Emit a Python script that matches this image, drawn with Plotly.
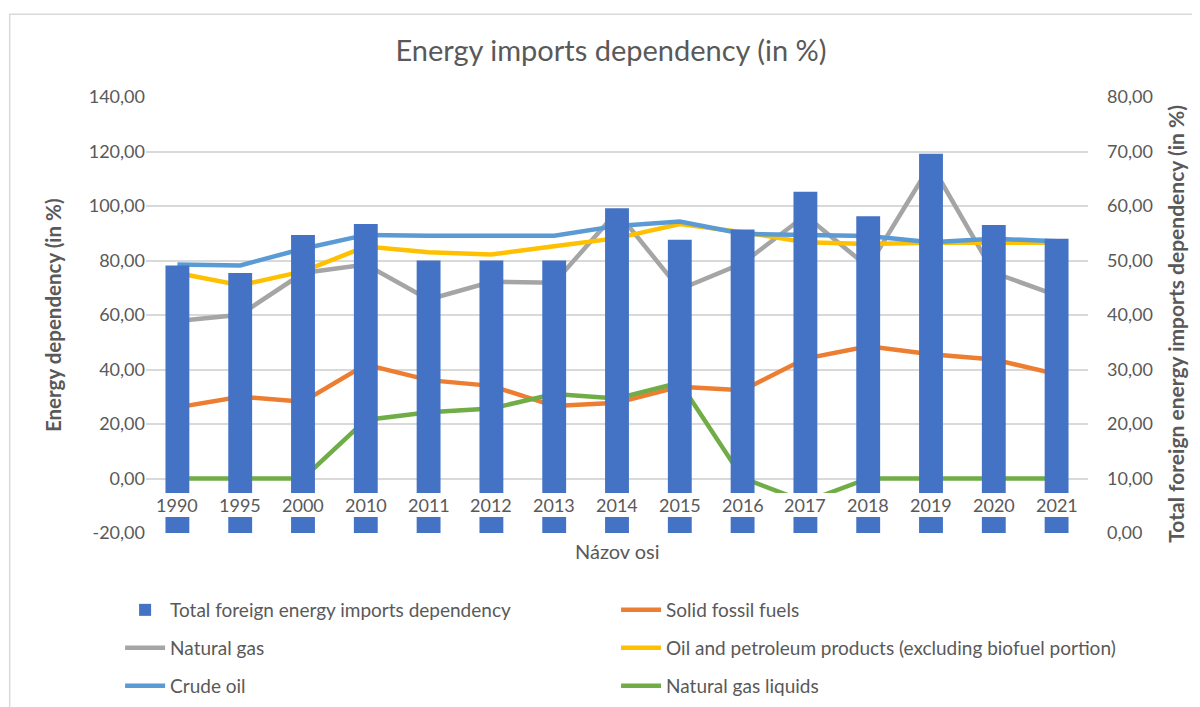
import plotly.graph_objects as go

years = ["1990", "1995", "2000", "2010", "2011", "2012", "2013", "2014",
         "2015", "2016", "2017", "2018", "2019", "2020", "2021"]

total_dependency = [49.1, 47.7, 54.7, 56.7, 50.0, 50.0, 50.0, 59.6,
                    53.8, 55.7, 62.6, 58.1, 69.6, 56.5, 54.0]
solid_fossil = [26.1, 30.0, 28.2, 41.8, 36.1, 34.0, 26.6, 27.8,
                33.7, 32.4, 44.0, 48.5, 45.6, 43.7, 38.3]
natural_gas = [57.8, 60.1, 75.4, 78.5, 65.7, 72.2, 71.8, 97.9,
               69.4, 79.0, 96.5, 77.6, 115.4, 75.5, 67.2]
oil_petroleum = [75.4, 70.9, 76.0, 85.1, 83.0, 82.2, 85.2, 88.2,
                 93.4, 90.4, 86.7, 86.1, 86.5, 86.7, 86.5]
crude_oil = [78.5, 78.2, 84.3, 89.4, 89.1, 89.1, 89.1, 92.7,
             94.3, 89.8, 89.4, 89.0, 86.7, 88.0, 87.1]
ngl = [0.0, 0.0, 0.0, 21.5, 24.3, 25.7, 31.0, 29.4,
       35.2, 0.2, -8.6, 0.0, 0.0, 0.0, 0.0]

left_ticks = [-20, 0, 20, 40, 60, 80, 100, 120, 140]
right_ticks = [0, 10, 20, 30, 40, 50, 60, 70, 80]


def fmt(v):
    return f"{v:.2f}".replace(".", ",")


FONT = "Lato, 'Open Sans', sans-serif"
TXT = "#595959"
GRID = "#D9D9D9"

fig = go.Figure()
fig.add_trace(go.Bar(x=years, y=total_dependency, yaxis="y2",
                     name="Total foreign energy imports dependency",
                     marker=dict(color="#4472C4", line=dict(width=0)),
                     legend="legend", showlegend=True))
lines = [
    ("Solid fossil fuels", solid_fossil, "#ED7D31", "legend2"),
    ("Natural gas", natural_gas, "#A5A5A5", "legend3"),
    ("Oil and petroleum products (excluding biofuel portion)", oil_petroleum, "#FFC000", "legend4"),
    ("Crude oil", crude_oil, "#5B9BD5", "legend5"),
    ("Natural gas liquids", ngl, "#70AD47", "legend6"),
]
for name, vals, col, lg in lines:
    fig.add_trace(go.Scatter(x=years, y=vals, name=name, mode="lines",
                             line=dict(color=col, width=4.5), legend=lg))

# category labels sit in a white band across the bars (Excel style)
annotations = []
for i, yr in enumerate(years):
    annotations.append(dict(x=i, y=-9.7, xref="x", yref="y", text=yr,
                            showarrow=False, font=dict(family=FONT, size=18, color=TXT)))
annotations += [
    dict(x=-0.0987, y=0.5, xref="paper", yref="paper", text="<b>Energy dependency (in %)</b>",
         textangle=-90, showarrow=False, xanchor="center", yanchor="middle",
         font=dict(family=FONT, size=20.5, color=TXT)),
    dict(x=1.0934, y=0.48, xref="paper", yref="paper",
         text="<b>Total foreign energy imports dependency (in %)</b>",
         textangle=-90, showarrow=False, xanchor="center", yanchor="middle",
         font=dict(family=FONT, size=21, color=TXT)),
    dict(x=0.5, y=-0.0413, xref="paper", yref="paper", text="Názov osi",
         showarrow=False, xanchor="center", yanchor="middle",
         font=dict(family=FONT, size=20, color=TXT)),
]

shapes = [
    dict(type="rect", xref="paper", yref="y", x0=0, x1=1, y0=-14.1, y1=-5.3,
         fillcolor="white", line=dict(width=0), layer="above"),
    dict(type="rect", xref="paper", yref="paper", x0=-0.1447, x1=1.3, y0=1.19, y1=-0.6,
         fillcolor="rgba(0,0,0,0)", line=dict(color=GRID, width=1.5), layer="below"),
]

legend_common = dict(orientation="h", xanchor="left", yanchor="middle", itemwidth=40,
                     font=dict(family=FONT, size=19, color=TXT), bgcolor="rgba(0,0,0,0)")
col_x = [-0.0275, 0.499]
row_y = [-0.1766, -0.2638, -0.3509]

fig.update_layout(
    width=1192, height=699,
    margin=dict(l=138, r=112, t=89, b=174, autoexpand=False),
    paper_bgcolor="white", plot_bgcolor="white",
    showlegend=True,
    bargap=0.62,
    title=dict(text="Energy imports dependency (in %)", x=0.5059, xanchor="center",
               y=0.938, yanchor="middle", font=dict(family=FONT, size=29, color=TXT)),
    xaxis=dict(type="category", range=[-0.5, len(years) - 0.5], showticklabels=False,
               showgrid=False, showline=False, ticks="", zeroline=False),
    yaxis=dict(range=[-20, 140], tickvals=left_ticks, ticktext=[fmt(v) for v in left_ticks],
               gridcolor=GRID, gridwidth=1.5, zeroline=False, showline=False, ticks="",
               tickfont=dict(family=FONT, size=18, color=TXT)),
    yaxis2=dict(range=[0, 80], tickvals=right_ticks, ticktext=[fmt(v) for v in right_ticks],
                overlaying="y", side="right", showgrid=False, zeroline=False,
                showline=False, ticks="", ticklabelstandoff=18,
                tickfont=dict(family=FONT, size=18, color=TXT)),
    legend=dict(legend_common, x=col_x[0], y=row_y[0]),
    legend2=dict(legend_common, x=col_x[1], y=row_y[0]),
    legend3=dict(legend_common, x=col_x[0], y=row_y[1]),
    legend4=dict(legend_common, x=col_x[1], y=row_y[1]),
    legend5=dict(legend_common, x=col_x[0], y=row_y[2]),
    legend6=dict(legend_common, x=col_x[1], y=row_y[2]),
    annotations=annotations,
    shapes=shapes,
)

fig.write_html("out.html")
